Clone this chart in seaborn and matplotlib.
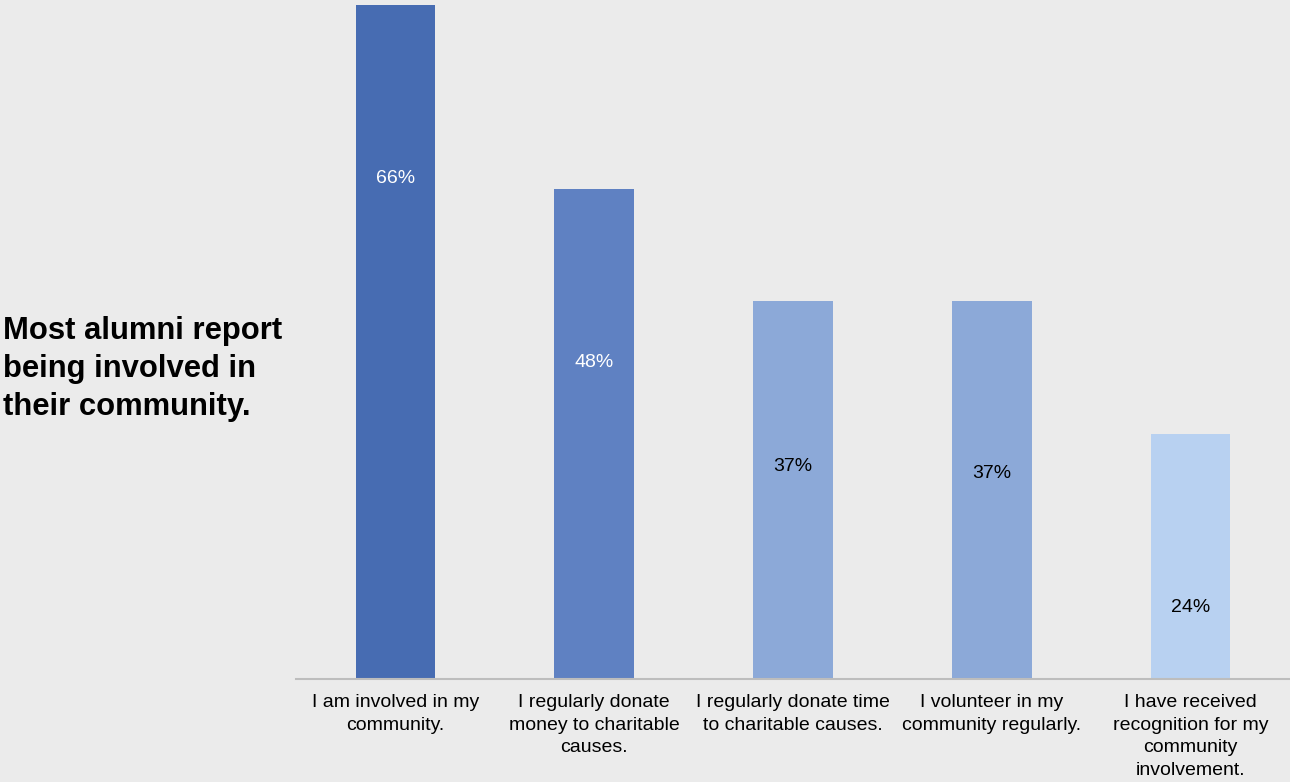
import matplotlib
matplotlib.use("Agg")
import matplotlib.pyplot as plt
import seaborn as sns
import pandas as pd

categories = [
    "I am involved in my\ncommunity.",
    "I regularly donate\nmoney to charitable\ncauses.",
    "I regularly donate time\nto charitable causes.",
    "I volunteer in my\ncommunity regularly.",
    "I have received\nrecognition for my\ncommunity\ninvolvement.",
]
values = [66, 48, 37, 37, 24]
labels = ["66%", "48%", "37%", "37%", "24%"]
label_y = [49.0, 31.0, 20.8, 20.1, 7.0]

bar_colors = ["#476CB2", "#5F81C2", "#8CA9D8", "#8CA9D8", "#B8D1F1"]
label_colors = ["white", "white", "black", "black", "black"]
bg = "#EBEBEB"

sns.set_theme(style="white")
plt.rcParams["font.family"] = ["Liberation Sans", "DejaVu Sans"]

df = pd.DataFrame({"category": categories, "value": values})

fig = plt.figure(figsize=(12.9, 7.82), dpi=100, facecolor=bg)
ax = fig.add_axes([296 / 1290, 103 / 782, 994 / 1290, 679 / 782])
ax.set_facecolor(bg)

sns.barplot(data=df, x="category", y="value", hue="category",
            palette=bar_colors, width=0.4, saturation=1, legend=False,
            linewidth=0, edgecolor="none", ax=ax)

ax.set_ylim(0, 66.5)
ax.set_xlim(-0.5, 4.5)
ax.set_xlabel("")
ax.set_ylabel("")
ax.set_yticks([])
ax.tick_params(axis="x", length=0, pad=11, labelsize=14, colors="black")
for lbl in ax.get_xticklabels():
    lbl.set_ha("center")
    lbl.set_linespacing(1.43)

for s in ["top", "right", "left"]:
    ax.spines[s].set_visible(False)
ax.spines["bottom"].set_color("#BDBDBD")
ax.spines["bottom"].set_linewidth(1.5)

for i, (txt, y, c) in enumerate(zip(labels, label_y, label_colors)):
    ax.text(i, y, txt, ha="center", va="center", fontsize=14, color=c)

fig.text(3 / 1290, 1 - 369 / 782,
         "Most alumni report\nbeing involved in\ntheir community.",
         ha="left", va="center", fontsize=22.3, fontweight="bold",
         color="black", linespacing=1.34)

fig.savefig("out.png", dpi=100, facecolor=bg)
